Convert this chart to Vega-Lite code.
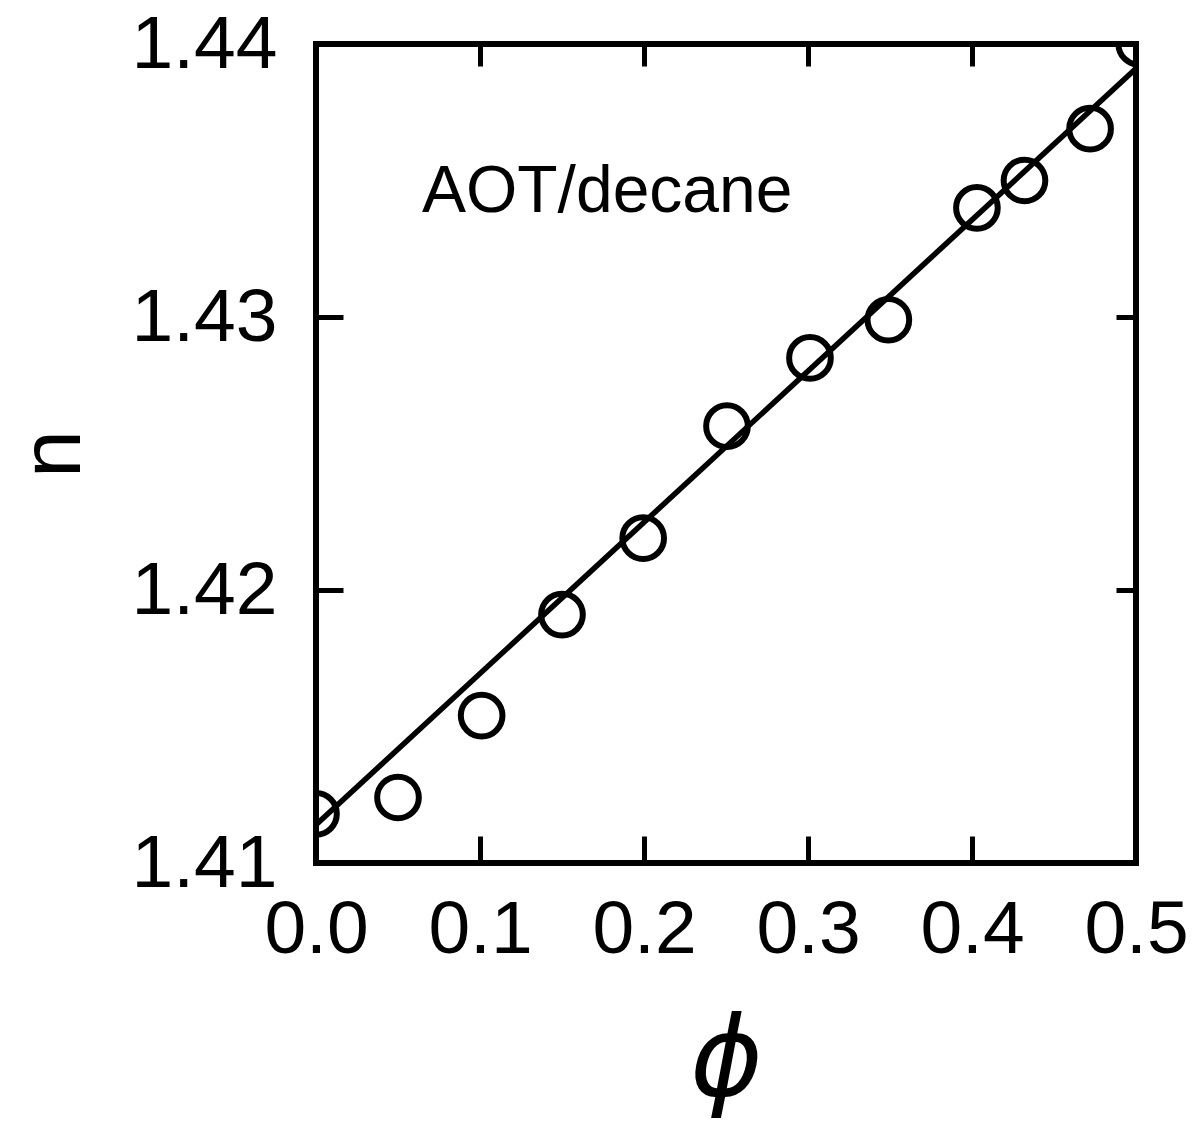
{
  "$schema": "https://vega.github.io/schema/vega-lite/v6.json",
  "width": 820,
  "height": 819,
  "autosize": {"type": "none"},
  "padding": {"left": 316, "top": 44, "right": 65, "bottom": 258},
  "background": "white",
  "config": {
    "view": {"stroke": "black", "strokeWidth": 6},
    "axis": {
      "domain": false,
      "grid": false,
      "tickColor": "black",
      "tickWidth": 5,
      "labelColor": "black",
      "titleColor": "black",
      "labelFont": "Liberation Sans",
      "labelFontSize": 75,
      "labelFontWeight": "normal",
      "titleFontWeight": "normal",
      "labelFlush": false,
      "labelOverlap": false
    }
  },
  "datasets": {
    "points": [
      {"phi": 0.0, "n": 1.4118},
      {"phi": 0.050, "n": 1.4124},
      {"phi": 0.101, "n": 1.4154},
      {"phi": 0.150, "n": 1.4191},
      {"phi": 0.1995, "n": 1.4219},
      {"phi": 0.2506, "n": 1.4260},
      {"phi": 0.3012, "n": 1.4285},
      {"phi": 0.349, "n": 1.4299},
      {"phi": 0.403, "n": 1.4340},
      {"phi": 0.432, "n": 1.4350},
      {"phi": 0.472, "n": 1.4369},
      {"phi": 0.502, "n": 1.4400}
    ],
    "fit": [
      {"phi": 0.0, "n": 1.4114},
      {"phi": 0.5, "n": 1.4391}
    ],
    "note": [
      {"phi": 0.0646, "n": 1.43385, "label": "AOT/decane"}
    ]
  },
  "layer": [
    {
      "data": {"name": "points"},
      "mark": {"type": "point", "shape": "circle", "filled": false, "stroke": "black", "strokeWidth": 6, "size": 1735, "opacity": 1, "clip": true},
      "encoding": {
        "x": {
          "field": "phi", "type": "quantitative",
          "scale": {"domain": [0, 0.5], "nice": false, "zero": false},
          "axis": {
            "orient": "bottom",
            "values": [0, 0.1, 0.2, 0.3, 0.4, 0.5],
            "format": ".1f",
            "tickSize": -27,
            "labelPadding": 57,
            "title": "ϕ",
            "titleFont": "DejaVu Sans",
            "titleFontStyle": "italic",
            "titleFontSize": 110,
            "titlePadding": 40
          }
        },
        "y": {
          "field": "n", "type": "quantitative",
          "scale": {"domain": [1.41, 1.44], "nice": false, "zero": false},
          "axis": {
            "orient": "left",
            "values": [1.41, 1.42, 1.43, 1.44],
            "format": ".2f",
            "tickSize": -27,
            "labelPadding": 66,
            "title": "n",
            "titleFont": "Liberation Sans",
            "titleFontSize": 86,
            "titlePadding": 34
          }
        }
      }
    },
    {
      "data": {"name": "fit"},
      "mark": {"type": "line", "stroke": "black", "strokeWidth": 5.5, "clip": true},
      "encoding": {
        "x": {
          "field": "phi", "type": "quantitative",
          "axis": {"orient": "top", "values": [0.1, 0.2, 0.3, 0.4], "labels": false, "title": null, "tickSize": -22}
        },
        "y": {
          "field": "n", "type": "quantitative",
          "axis": {"orient": "right", "values": [1.42, 1.43], "labels": false, "title": null, "tickSize": -20}
        }
      }
    },
    {
      "data": {"name": "note"},
      "mark": {"type": "text", "font": "Liberation Sans", "fontSize": 66, "align": "left", "baseline": "alphabetic", "color": "black"},
      "encoding": {
        "x": {"field": "phi", "type": "quantitative", "axis": null},
        "y": {"field": "n", "type": "quantitative", "axis": null},
        "text": {"field": "label"}
      }
    }
  ]
}
